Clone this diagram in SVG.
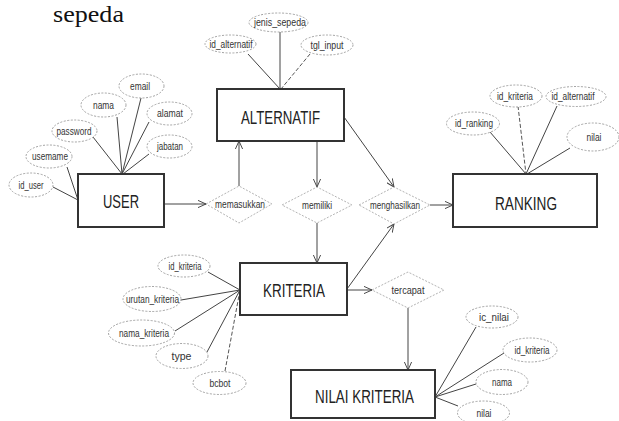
<svg xmlns="http://www.w3.org/2000/svg" width="619" height="421" viewBox="0 0 619 421">
<defs>
<marker id="arr" viewBox="0 0 10 10" refX="10" refY="5" markerWidth="8" markerHeight="8" markerUnits="userSpaceOnUse" orient="auto"><path d="M0,0.5 L10,5 L0,9.5" fill="none" stroke="#444" stroke-width="1.2"/></marker>
<style>
.ent{fill:#fff;stroke:#333;stroke-width:2}
.attr{fill:#fff;stroke:#999;stroke-width:0.9;stroke-dasharray:2 1.5}
.rel{fill:#fff;stroke:#aaa;stroke-width:0.9;stroke-dasharray:2 1.5}
.et{font-family:"Liberation Sans",Arial,sans-serif;font-size:18px;fill:#222;text-anchor:middle}
.at{font-family:"Liberation Sans",Arial,sans-serif;font-size:10.5px;fill:#333;text-anchor:middle}
.ln{stroke:#444;stroke-width:1;fill:none}
.dl{stroke:#555;stroke-width:1;fill:none;stroke-dasharray:4 2}
.ar{stroke:#444;stroke-width:1;fill:none;marker-end:url(#arr)}
</style>
</defs>
<rect width="619" height="421" fill="#fff"/>
<text x="53" y="22" font-family="Liberation Serif,Times New Roman,serif" font-size="24" fill="#111" textLength="71" lengthAdjust="spacingAndGlyphs">sepeda</text>

<g id="connectors">
<!-- USER attributes -->
<line class="ln" x1="141" y1="98" x2="122" y2="174"/>
<line class="ln" x1="117" y1="117" x2="122" y2="174"/>
<line class="ln" x1="149" y1="122" x2="122" y2="174"/>
<line class="ln" x1="149" y1="154" x2="123" y2="174"/>
<line class="ln" x1="93" y1="137" x2="122" y2="174"/>
<line class="ln" x1="67" y1="167" x2="78" y2="200"/>
<line class="ln" x1="53" y1="187" x2="78" y2="200"/>
<!-- ALTERNATIF attributes -->
<line class="ln" x1="248" y1="54" x2="280" y2="89" stroke="#888"/>
<line class="ln" x1="280" y1="32" x2="280" y2="89" stroke="#aaa"/>
<line class="dl" x1="310" y1="54" x2="281" y2="89" stroke="#999" stroke-dasharray="2 2"/>
<!-- RANKING attributes -->
<line class="dl" x1="518" y1="106" x2="526" y2="174"/>
<line class="ln" x1="557" y1="106" x2="526" y2="174"/>
<line class="ln" x1="490" y1="132" x2="526" y2="174"/>
<line class="ln" x1="570" y1="148" x2="527" y2="174"/>
<!-- KRITERIA attributes -->
<line class="ln" x1="208" y1="272" x2="240" y2="290"/>
<line class="ln" x1="181" y1="300" x2="240" y2="290"/>
<line class="ln" x1="175" y1="331" x2="240" y2="290"/>
<line class="ln" x1="207" y1="352" x2="240" y2="290"/>
<line class="dl" x1="225" y1="371" x2="240" y2="290"/>
<!-- NILAI KRITERIA attributes -->
<line class="ln" x1="476" y1="327" x2="435" y2="397"/>
<line class="ln" x1="504" y1="353" x2="435" y2="397"/>
<line class="ln" x1="476" y1="384" x2="435" y2="397"/>
<line class="ln" x1="458" y1="406" x2="435" y2="397"/>
<!-- relationships -->
<line class="ar" x1="164" y1="204" x2="206" y2="204"/>
<line class="ar" x1="239" y1="186" x2="239" y2="141"/>
<line class="ar" x1="317" y1="141" x2="317" y2="187"/>
<line class="ar" x1="317" y1="223" x2="317" y2="263"/>
<line class="ar" x1="344" y1="117" x2="394" y2="187"/>
<line class="ar" x1="347" y1="289" x2="394" y2="224"/>
<line class="ar" x1="430" y1="205" x2="453" y2="205"/>
<line class="ar" x1="347" y1="290" x2="372" y2="290"/>
<line class="ar" x1="408" y1="308" x2="408" y2="370"/>
</g>

<g id="user">
<rect class="ent" x="78" y="174" width="86" height="53"/>
<text class="et" x="121" y="208" textLength="36" lengthAdjust="spacingAndGlyphs">USER</text>
</g>
<g id="user-email"><ellipse class="attr" cx="141.5" cy="86" rx="22.5" ry="12"/><text class="at" x="140" y="89.5" textLength="20" lengthAdjust="spacingAndGlyphs">email</text></g>
<g id="user-nama"><ellipse class="attr" cx="103.5" cy="105" rx="22.5" ry="12"/><text class="at" x="103.5" y="108.5" textLength="21" lengthAdjust="spacingAndGlyphs">nama</text></g>
<g id="user-alamat"><ellipse class="attr" cx="169.5" cy="113.5" rx="22.5" ry="11.5"/><text class="at" x="170" y="117" textLength="26" lengthAdjust="spacingAndGlyphs">alamat</text></g>
<g id="user-jabatan"><ellipse class="attr" cx="169.5" cy="146.5" rx="22.5" ry="11.5"/><text class="at" x="170" y="150" textLength="26" lengthAdjust="spacingAndGlyphs">jabatan</text></g>
<g id="user-password"><ellipse class="attr" cx="74.5" cy="131" rx="22.5" ry="11"/><text class="at" x="74" y="134.5" textLength="35" lengthAdjust="spacingAndGlyphs">password</text></g>
<g id="user-username"><ellipse class="attr" cx="49" cy="156.5" rx="23" ry="11.5"/><text class="at" x="50" y="160" textLength="36" lengthAdjust="spacingAndGlyphs">usemame</text></g>
<g id="user-id"><ellipse class="attr" cx="31" cy="185" rx="22" ry="12"/><text class="at" x="31" y="188.5" textLength="25" lengthAdjust="spacingAndGlyphs">id_user</text></g>

<g id="alternatif">
<rect class="ent" x="217" y="89" width="127" height="52"/>
<text class="et" x="280.5" y="124" textLength="79" lengthAdjust="spacingAndGlyphs">ALTERNATIF</text>
</g>
<g id="alt-id"><ellipse class="attr" cx="230.5" cy="44" rx="25.5" ry="9"/><text class="at" x="231" y="47.5" textLength="43" lengthAdjust="spacingAndGlyphs">id_alternatif</text></g>
<g id="alt-jenis"><ellipse class="attr" cx="278.5" cy="22.5" rx="29.5" ry="9.5"/><text class="at" x="280" y="26" textLength="52" lengthAdjust="spacingAndGlyphs">jenis_sepeda</text></g>
<g id="alt-tgl"><ellipse class="attr" cx="327" cy="45" rx="26" ry="10"/><text class="at" x="327" y="48.5" textLength="33" lengthAdjust="spacingAndGlyphs">tgl_input</text></g>

<g id="ranking">
<rect class="ent" x="453" y="174" width="144" height="53"/>
<text class="et" x="526" y="210" textLength="62" lengthAdjust="spacingAndGlyphs">RANKING</text>
</g>
<g id="rank-idk"><ellipse class="attr" cx="516" cy="96" rx="26" ry="11"/><text class="at" x="515" y="99.5" textLength="36" lengthAdjust="spacingAndGlyphs">id_kriteria</text></g>
<g id="rank-ida"><ellipse class="attr" cx="576" cy="96.5" rx="30" ry="10"/><text class="at" x="573" y="100" textLength="43" lengthAdjust="spacingAndGlyphs">id_alternatif</text></g>
<g id="rank-id"><ellipse class="attr" cx="473" cy="123.5" rx="26.5" ry="11.5"/><text class="at" x="474" y="127" textLength="38" lengthAdjust="spacingAndGlyphs">id_ranking</text></g>
<g id="rank-nilai"><ellipse class="attr" cx="593" cy="137" rx="26" ry="14"/><text class="at" x="594" y="140.5" textLength="15" lengthAdjust="spacingAndGlyphs">nilai</text></g>

<g id="kriteria">
<rect class="ent" x="240" y="263" width="107" height="52"/>
<text class="et" x="294" y="297" textLength="62" lengthAdjust="spacingAndGlyphs">KRITERIA</text>
</g>
<g id="krit-id"><ellipse class="attr" cx="184" cy="266" rx="26" ry="11"/><text class="at" x="185" y="269.5" textLength="33" lengthAdjust="spacingAndGlyphs">id_kriteria</text></g>
<g id="krit-urutan"><ellipse class="attr" cx="152" cy="299" rx="29" ry="12.5"/><text class="at" x="152.5" y="302.5" textLength="53" lengthAdjust="spacingAndGlyphs">urutan_kriteria</text></g>
<g id="krit-nama"><ellipse class="attr" cx="141.5" cy="333" rx="33" ry="13"/><text class="at" x="144" y="336.5" textLength="50" lengthAdjust="spacingAndGlyphs">nama_kriteria</text></g>
<g id="krit-type"><ellipse class="attr" cx="182" cy="356" rx="26" ry="12.5"/><text class="at" x="181.5" y="359.5" textLength="20" lengthAdjust="spacingAndGlyphs">type</text></g>
<g id="krit-bobot"><ellipse class="attr" cx="219.5" cy="383" rx="26.5" ry="11.5"/><text class="at" x="220" y="386.5" textLength="21" lengthAdjust="spacingAndGlyphs">bcbot</text></g>

<g id="nilai-kriteria">
<rect class="ent" x="291" y="370" width="144" height="48"/>
<text class="et" x="364.5" y="403" textLength="99" lengthAdjust="spacingAndGlyphs">NILAI KRITERIA</text>
</g>
<g id="nk-id"><ellipse class="attr" cx="492" cy="317" rx="26" ry="11"/><text class="at" x="494" y="320.5" textLength="30" lengthAdjust="spacingAndGlyphs">ic_nilai</text></g>
<g id="nk-idk"><ellipse class="attr" cx="530" cy="350" rx="27" ry="12"/><text class="at" x="532" y="353.5" textLength="35" lengthAdjust="spacingAndGlyphs">id_kriteria</text></g>
<g id="nk-nama"><ellipse class="attr" cx="502" cy="382" rx="26" ry="12.5"/><text class="at" x="502" y="385.5" textLength="20" lengthAdjust="spacingAndGlyphs">nama</text></g>
<g id="nk-nilai"><ellipse class="attr" cx="483.5" cy="413" rx="26" ry="12"/><text class="at" x="484" y="416.5" textLength="15" lengthAdjust="spacingAndGlyphs">nilai</text></g>

<g id="memasukkan"><polygon class="rel" points="206,204 239,186 272,204 239,223"/><text class="at" x="240" y="207.5" textLength="50" lengthAdjust="spacingAndGlyphs">memasukkan</text></g>
<g id="memiliki"><polygon class="rel" points="282,205 317,187 352,205 317,223"/><text class="at" x="317" y="208.5" textLength="30" lengthAdjust="spacingAndGlyphs">memiliki</text></g>
<g id="menghasilkan"><polygon class="rel" points="359,205 394,187 430,205 394,224"/><text class="at" x="395" y="208.5" textLength="50" lengthAdjust="spacingAndGlyphs">menghasilkan</text></g>
<g id="tercapat"><polygon class="rel" points="372,290 408,272 444,290 408,308"/><text class="at" x="408" y="293.5" textLength="33" lengthAdjust="spacingAndGlyphs">tercapat</text></g>
</svg>
